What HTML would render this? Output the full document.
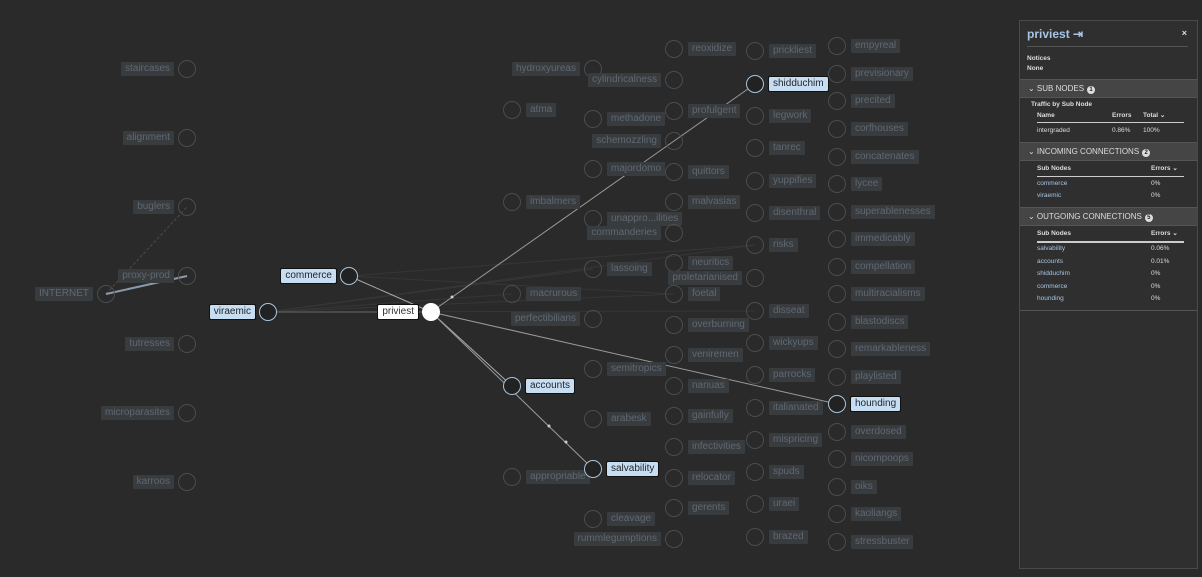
<!DOCTYPE html>
<html><head><meta charset="utf-8">
<style>
html,body{margin:0;padding:0;background:#2a2a2a;width:1202px;height:577px;overflow:hidden;font-family:"Liberation Sans",sans-serif}
#g{position:absolute;left:0;top:0;width:1202px;height:577px}
.c{position:absolute;width:16px;height:16px;margin:-9.5px 0 0 -9.5px;border:1.5px solid #4a4c4e;border-radius:50%}
.h{border-color:#a8c4dc;background:#222}
.w{background:#fff;border-color:#fff}
.l,.r{position:absolute;height:14px;line-height:14px;font-size:10px;padding:0 4px;background:#393c3f;color:#5f6872;white-space:nowrap;border-radius:1px}
.hl{background:#c6ddf2;color:#1f2328;outline:1px solid #111}
.wl{background:#fff;color:#333;outline:1px solid #111}
#p{position:absolute;left:1019px;top:20px;width:177px;height:547px;background:#2f2f2f;border:1px solid #4a4a4a;color:#ddd;font-size:7px}
#p .t{font-size:12px;font-weight:bold;color:#a8c4e4;position:absolute;left:7px;top:6px}
#p .x{position:absolute;right:10px;top:7px;font-size:9px;font-weight:bold}
#p .sep{position:absolute;left:7px;right:9px;top:25px;border-top:1px solid #555}
.sec{position:absolute;left:0;right:0;height:17px;background:#454545;border-top:1px solid #555;border-bottom:1px solid #555;font-size:8px;color:#ddd;line-height:17px;padding-left:8px}
.b{display:inline-block;background:#ddd;color:#222;border-radius:50%;width:8px;height:8px;line-height:8px;text-align:center;font-size:6px;margin-left:3px;font-weight:bold}
.row{position:absolute;font-size:6.5px;line-height:10px}
.lk{color:#a8c4e4}
</style></head><body>
<svg id="g" width="1202" height="577">
<g stroke="#3a3a3a" stroke-width="1" opacity="0.8">
<line x1="268" y1="312" x2="674" y2="294"/><line x1="268" y1="312" x2="755" y2="245"/><line x1="268" y1="312" x2="593" y2="269"/><line x1="268" y1="312" x2="755" y2="311"/>
<line x1="349" y1="276" x2="674" y2="294"/><line x1="349" y1="276" x2="755" y2="245"/><line x1="268" y1="312" x2="512" y2="294"/>
<line x1="106" y1="294" x2="187" y2="207" stroke="#555" stroke-dasharray="3,2"/>
</g>
<line x1="106" y1="294" x2="187" y2="276" stroke="#8a9aaa" stroke-width="2"/>
<line x1="268" y1="312" x2="431" y2="312" stroke="#666" stroke-width="1"/>
<line x1="349" y1="276" x2="431" y2="312" stroke="#aaa" stroke-width="1"/>
<line x1="431" y1="312" x2="755" y2="84" stroke="#999" stroke-width="1"/>
<line x1="431" y1="312" x2="837" y2="404" stroke="#999" stroke-width="1"/>
<line x1="431" y1="312" x2="512" y2="386" stroke="#aaa" stroke-width="1"/>
<line x1="431" y1="312" x2="593" y2="469" stroke="#999" stroke-width="1"/>
<circle cx="452" cy="297" r="1.5" fill="#ccc"/><circle cx="719" cy="109" r="1.5" fill="#ccc"/>
<circle cx="549" cy="426" r="1.5" fill="#ccc"/><circle cx="566" cy="442" r="1.5" fill="#ccc"/>
</svg>

<div class="c" style="left:187px;top:69px"></div><span class="l" style="right:1028px;top:62px">staircases</span>
<div class="c" style="left:187px;top:138px"></div><span class="l" style="right:1028px;top:131px">alignment</span>
<div class="c" style="left:187px;top:207px"></div><span class="l" style="right:1028px;top:200px">buglers</span>
<div class="c" style="left:187px;top:276px"></div><span class="l" style="right:1028px;top:269px">proxy-prod</span>
<div class="c" style="left:187px;top:344px"></div><span class="l" style="right:1028px;top:337px">tutresses</span>
<div class="c" style="left:187px;top:413px"></div><span class="l" style="right:1028px;top:406px">microparasites</span>
<div class="c" style="left:187px;top:482px"></div><span class="l" style="right:1028px;top:475px">karroos</span>
<div class="c" style="left:106px;top:294px"></div><span class="l" style="right:1109px;top:287px">INTERNET</span>

<div class="c h" style="left:349px;top:276px"></div><span class="l hl" style="right:866px;top:269px">commerce</span>
<div class="c h" style="left:268px;top:312px"></div><span class="l hl" style="right:947px;top:305px">viraemic</span>
<div class="c w" style="left:431px;top:312px"></div><span class="l wl" style="right:784px;top:305px">priviest</span>

<div class="c" style="left:512px;top:110px"></div><span class="r" style="left:526px;top:103px">atma</span>
<div class="c" style="left:512px;top:202px"></div><span class="r" style="left:526px;top:195px">imbalmers</span>
<div class="c" style="left:512px;top:294px"></div><span class="r" style="left:526px;top:287px">macrurous</span>
<div class="c h" style="left:512px;top:386px"></div><span class="r hl" style="left:526px;top:379px">accounts</span>
<div class="c" style="left:512px;top:477px"></div><span class="r" style="left:526px;top:470px">appropriable</span>

<div class="c" style="left:593px;top:69px"></div><span class="l" style="right:622px;top:62px">hydroxyureas</span>
<div class="c" style="left:593px;top:119px"></div><span class="r" style="left:607px;top:112px">methadone</span>
<div class="c" style="left:593px;top:169px"></div><span class="r" style="left:607px;top:162px">majordomo</span>
<div class="c" style="left:593px;top:219px"></div><span class="r" style="left:607px;top:212px">unappro...ilities</span>
<div class="c" style="left:593px;top:269px"></div><span class="r" style="left:607px;top:262px">lassoing</span>
<div class="c" style="left:593px;top:319px"></div><span class="l" style="right:622px;top:312px">perfectibilians</span>
<div class="c" style="left:593px;top:369px"></div><span class="r" style="left:607px;top:362px">semitropics</span>
<div class="c" style="left:593px;top:419px"></div><span class="r" style="left:607px;top:412px">arabesk</span>
<div class="c h" style="left:593px;top:469px"></div><span class="r hl" style="left:607px;top:462px">salvability</span>
<div class="c" style="left:593px;top:519px"></div><span class="r" style="left:607px;top:512px">cleavage</span>

<div class="c" style="left:674px;top:49px"></div><span class="r" style="left:688px;top:42px">reoxidize</span>
<div class="c" style="left:674px;top:80px"></div><span class="l" style="right:541px;top:73px">cylindricalness</span>
<div class="c" style="left:674px;top:111px"></div><span class="r" style="left:688px;top:104px">profulgent</span>
<div class="c" style="left:674px;top:141px"></div><span class="l" style="right:541px;top:134px">schemozzling</span>
<div class="c" style="left:674px;top:172px"></div><span class="r" style="left:688px;top:165px">quittors</span>
<div class="c" style="left:674px;top:202px"></div><span class="r" style="left:688px;top:195px">malvasias</span>
<div class="c" style="left:674px;top:233px"></div><span class="l" style="right:541px;top:226px">commanderies</span>
<div class="c" style="left:674px;top:263px"></div><span class="r" style="left:688px;top:256px">neuritics</span>
<div class="c" style="left:674px;top:294px"></div><span class="r" style="left:688px;top:287px">foetal</span>
<div class="c" style="left:674px;top:325px"></div><span class="r" style="left:688px;top:318px">overburning</span>
<div class="c" style="left:674px;top:355px"></div><span class="r" style="left:688px;top:348px">veniremen</span>
<div class="c" style="left:674px;top:386px"></div><span class="r" style="left:688px;top:379px">nanuas</span>
<div class="c" style="left:674px;top:416px"></div><span class="r" style="left:688px;top:409px">gainfully</span>
<div class="c" style="left:674px;top:447px"></div><span class="r" style="left:688px;top:440px">infectivities</span>
<div class="c" style="left:674px;top:478px"></div><span class="r" style="left:688px;top:471px">relocator</span>
<div class="c" style="left:674px;top:508px"></div><span class="r" style="left:688px;top:501px">gerents</span>
<div class="c" style="left:674px;top:539px"></div><span class="l" style="right:541px;top:532px">rummlegumptions</span>

<div class="c" style="left:755px;top:51px"></div><span class="r" style="left:769px;top:44px">prickliest</span>
<div class="c h" style="left:755px;top:84px"></div><span class="r hl" style="left:769px;top:77px">shidduchim</span>
<div class="c" style="left:755px;top:116px"></div><span class="r" style="left:769px;top:109px">legwork</span>
<div class="c" style="left:755px;top:148px"></div><span class="r" style="left:769px;top:141px">tanrec</span>
<div class="c" style="left:755px;top:181px"></div><span class="r" style="left:769px;top:174px">yuppifies</span>
<div class="c" style="left:755px;top:213px"></div><span class="r" style="left:769px;top:206px">disenthral</span>
<div class="c" style="left:755px;top:245px"></div><span class="r" style="left:769px;top:238px">risks</span>
<div class="c" style="left:755px;top:278px"></div><span class="l" style="right:460px;top:271px">proletarianised</span>
<div class="c" style="left:755px;top:311px"></div><span class="r" style="left:769px;top:304px">disseat</span>
<div class="c" style="left:755px;top:343px"></div><span class="r" style="left:769px;top:336px">wickyups</span>
<div class="c" style="left:755px;top:375px"></div><span class="r" style="left:769px;top:368px">parrocks</span>
<div class="c" style="left:755px;top:408px"></div><span class="r" style="left:769px;top:401px">italianated</span>
<div class="c" style="left:755px;top:440px"></div><span class="r" style="left:769px;top:433px">mispricing</span>
<div class="c" style="left:755px;top:472px"></div><span class="r" style="left:769px;top:465px">spuds</span>
<div class="c" style="left:755px;top:504px"></div><span class="r" style="left:769px;top:497px">uraei</span>
<div class="c" style="left:755px;top:537px"></div><span class="r" style="left:769px;top:530px">brazed</span>

<div class="c" style="left:837px;top:46px"></div><span class="r" style="left:851px;top:39px">empyreal</span>
<div class="c" style="left:837px;top:74px"></div><span class="r" style="left:851px;top:67px">previsionary</span>
<div class="c" style="left:837px;top:101px"></div><span class="r" style="left:851px;top:94px">precited</span>
<div class="c" style="left:837px;top:129px"></div><span class="r" style="left:851px;top:122px">corfhouses</span>
<div class="c" style="left:837px;top:157px"></div><span class="r" style="left:851px;top:150px">concatenates</span>
<div class="c" style="left:837px;top:184px"></div><span class="r" style="left:851px;top:177px">lycee</span>
<div class="c" style="left:837px;top:212px"></div><span class="r" style="left:851px;top:205px">superablenesses</span>
<div class="c" style="left:837px;top:239px"></div><span class="r" style="left:851px;top:232px">immedicably</span>
<div class="c" style="left:837px;top:267px"></div><span class="r" style="left:851px;top:260px">compellation</span>
<div class="c" style="left:837px;top:294px"></div><span class="r" style="left:851px;top:287px">multiracialisms</span>
<div class="c" style="left:837px;top:322px"></div><span class="r" style="left:851px;top:315px">blastodiscs</span>
<div class="c" style="left:837px;top:349px"></div><span class="r" style="left:851px;top:342px">remarkableness</span>
<div class="c" style="left:837px;top:377px"></div><span class="r" style="left:851px;top:370px">playlisted</span>
<div class="c h" style="left:837px;top:404px"></div><span class="r hl" style="left:851px;top:397px">hounding</span>
<div class="c" style="left:837px;top:432px"></div><span class="r" style="left:851px;top:425px">overdosed</span>
<div class="c" style="left:837px;top:459px"></div><span class="r" style="left:851px;top:452px">nicompoops</span>
<div class="c" style="left:837px;top:487px"></div><span class="r" style="left:851px;top:480px">oiks</span>
<div class="c" style="left:837px;top:514px"></div><span class="r" style="left:851px;top:507px">kaoliangs</span>
<div class="c" style="left:837px;top:542px"></div><span class="r" style="left:851px;top:535px">stressbuster</span>

<div id="p">
<div class="t">priviest ⇥</div><div class="x">×</div>
<div class="sep"></div>
<div class="row" style="left:7px;top:33px;font-weight:bold">Notices</div>
<div class="row" style="left:7px;top:43px;font-weight:bold">None</div>
<div class="sec" style="top:58px">⌄ SUB NODES<span class="b">1</span></div>
<div class="row" style="left:11px;top:79px;font-weight:bold">Traffic by Sub Node</div>
<div class="row" style="left:17px;top:90px;font-weight:bold">Name</div><div class="row" style="left:92px;top:90px;font-weight:bold">Errors</div><div class="row" style="left:123px;top:90px;font-weight:bold">Total ⌄</div>
<div style="position:absolute;left:17px;right:13px;top:101px;border-top:1px solid #ccc"></div>
<div class="row" style="left:17px;top:105px">intergraded</div><div class="row" style="left:92px;top:105px">0.86%</div><div class="row" style="left:123px;top:105px">100%</div>
<div class="sec" style="top:121px">⌄ INCOMING CONNECTIONS<span class="b">2</span></div>
<div class="row" style="left:17px;top:143px;font-weight:bold">Sub Nodes</div><div class="row" style="left:131px;top:143px;font-weight:bold">Errors ⌄</div>
<div style="position:absolute;left:17px;right:13px;top:155px;border-top:1px solid #ccc"></div>
<div class="row lk" style="left:17px;top:158px">commerce</div><div class="row" style="left:131px;top:158px">0%</div>
<div class="row lk" style="left:17px;top:170px">viraemic</div><div class="row" style="left:131px;top:170px">0%</div>
<div class="sec" style="top:186px">⌄ OUTGOING CONNECTIONS<span class="b">5</span></div>
<div class="row" style="left:17px;top:208px;font-weight:bold">Sub Nodes</div><div class="row" style="left:131px;top:208px;font-weight:bold">Errors ⌄</div>
<div style="position:absolute;left:17px;right:13px;top:220px;border-top:2px solid #ccc"></div>
<div class="row lk" style="left:17px;top:223px">salvability</div><div class="row" style="left:131px;top:223px">0.06%</div>
<div class="row lk" style="left:17px;top:236px">accounts</div><div class="row" style="left:131px;top:236px">0.01%</div>
<div class="row lk" style="left:17px;top:248px">shidduchim</div><div class="row" style="left:131px;top:248px">0%</div>
<div class="row lk" style="left:17px;top:261px">commerce</div><div class="row" style="left:131px;top:261px">0%</div>
<div class="row lk" style="left:17px;top:273px">hounding</div><div class="row" style="left:131px;top:273px">0%</div>
<div style="position:absolute;left:0;right:0;top:289px;border-top:1px solid #555"></div>
</div>
</body></html>
